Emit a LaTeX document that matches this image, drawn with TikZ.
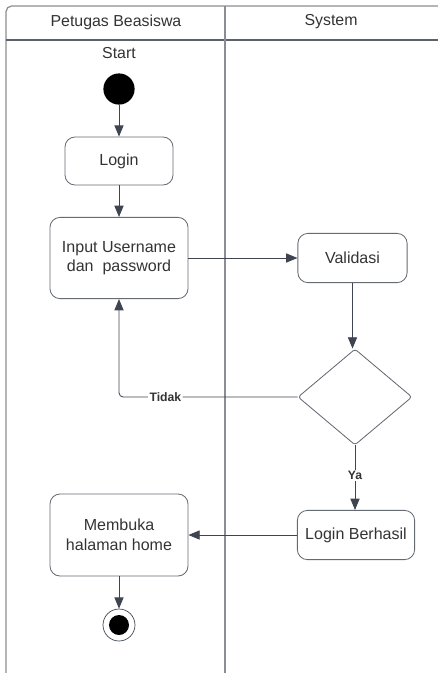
\documentclass[tikz,border=0pt]{standalone}
\usepackage{fontspec}
\setmainfont{Liberation Sans}
\usetikzlibrary{arrows.meta,shapes.geometric}

\definecolor{lanegray}{HTML}{8A8D93}
\definecolor{linedark}{HTML}{3F4550}
\definecolor{textdark}{HTML}{333333}

\begin{document}
\begin{tikzpicture}[x=0.025cm,y=-0.025cm,
        lane/.style={draw=lanegray, line width=0.9pt},
        action/.style={draw=linedark!80, rounded corners=0.25cm, line width=0.6pt,
                align=center, text=textdark, font=\fontsize{11.4}{14}\selectfont},
        decision/.style={draw=linedark!80, diamond, rounded corners=2pt, line width=0.6pt,
                minimum width=2.85cm, minimum height=2.4cm, inner sep=0pt},
        flow/.style={draw=linedark, line width=0.6pt,
                -{Triangle[length=8pt,width=6.5pt]}},
        guard/.style={fill=white, text=textdark, inner sep=1pt,
                font=\fontsize{8.7}{10}\selectfont\bfseries},
        title/.style={text=textdark, font=\fontsize{11.3}{13}\selectfont}]

        \useasboundingbox (0,0) rectangle (438,673);

        % lanes
        \draw[lane, rounded corners=4pt] (6,673) -- (6,6) -- (438,6);
        \draw[lane, draw=linedark!85] (6,40) -- (438,40);
        \draw[lane] (225,6) -- (225,673);

        \node[title] (petugas) at (116,22) {Petugas Beasiswa};
        \node[title] (system) at (331,22) {System};

        % #######################################

        \node[title] (startlbl) at (119,53) {Start};
        \node[circle, fill=black, minimum size=0.78cm, inner sep=0pt] (start) at (119,89) {};

        \node[action, minimum width=2.7cm, minimum height=1.2cm] (login) at (119,161) {Login};
        \node[action, minimum width=3.45cm, minimum height=2.03cm] (input) at (119,258)
                {Input Username\\dan\ \ password};
        \node[action, minimum width=2.73cm, minimum height=1.23cm] (validasi) at (352.5,258) {Validasi};
        \node[decision] (cek) at (355,397) {};
        \node[action, minimum width=2.93cm, minimum height=1.23cm] (berhasil) at (356,535) {Login Berhasil};
        \node[action, minimum width=3.45cm, minimum height=2.05cm] (home) at (119,535)
                {Membuka\\halaman home};

        \node[circle, draw=linedark, line width=0.5pt, minimum size=0.8cm, inner sep=0pt] (end) at (119,625) {};
        \node[circle, fill=black, minimum size=0.5cm, inner sep=0pt] (enddot) at (end) {};

        % #######################################

        \draw[flow] (start) -- (login);
        \draw[flow] (login) -- (input);
        \draw[flow] (input.east |- validasi) -- (validasi);
        \draw[flow] (validasi) -- (validasi |- cek.north);
        \coordinate (back) at (input.south |- cek.west);
        \draw[flow, rounded corners=3pt] (cek.west) -- node[guard, pos=0.74] {Tidak} (back) -- (input.south);
        \draw[flow] (cek.south) -- node[guard, pos=0.47] {Ya} (cek.south |- berhasil.north);
        \draw[flow] (berhasil) -- (home);
        \draw[flow] (home) -- (end);

\end{tikzpicture}
\end{document}
